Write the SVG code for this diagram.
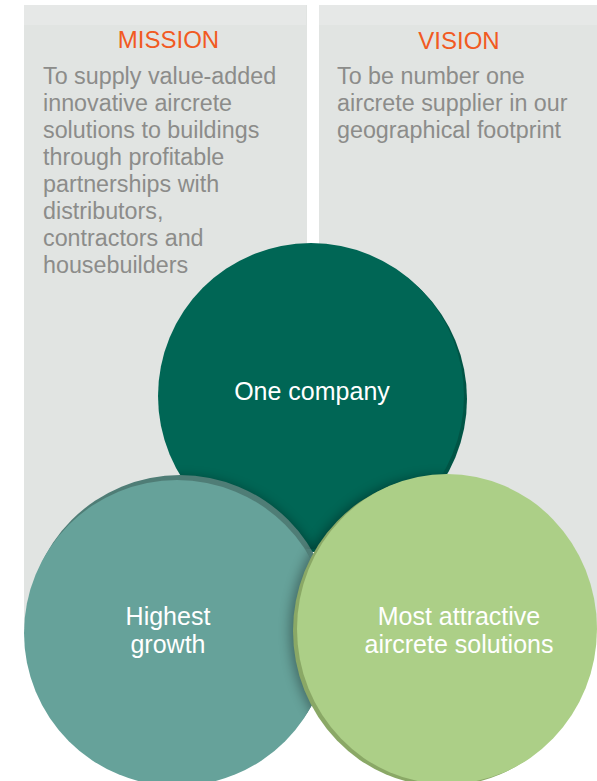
<svg xmlns="http://www.w3.org/2000/svg" width="597" height="781" viewBox="0 0 597 781">
  <style>
    .panel { fill: #e1e4e2; }
    .band { fill: #e6e8e7; }
    .title { font-family: "Liberation Sans", Arial, sans-serif; font-size: 24px; fill: #f15a22; text-anchor: middle; }
    .body { font-family: "Liberation Sans", Arial, sans-serif; font-size: 23.3px; fill: #8c8c8a; }
    .label { font-family: "Liberation Sans", Arial, sans-serif; font-size: 25px; fill: #ffffff; text-anchor: middle; }
    .shadow { fill: #000000; opacity: 0.35; filter: url(#blur); }
  </style>
  <defs>
    <filter id="blur" x="-20%" y="-20%" width="140%" height="140%">
      <feGaussianBlur stdDeviation="6"/>
    </filter>
    <clipPath id="clipDG">
      <circle cx="311" cy="396" r="153"/>
    </clipPath>
    <clipPath id="clipUnder">
      <circle cx="311" cy="396" r="153"/>
      <circle cx="177" cy="633" r="153"/>
    </clipPath>
  </defs>

  <rect width="597" height="781" fill="#ffffff"/>

  <g id="panel-mission">
    <rect class="panel" x="24" y="5" width="283" height="623"/>
    <rect class="band" x="24" y="5" width="282" height="20"/>
    <text class="title" x="168.5" y="48">MISSION</text>
    <text class="body" x="43" y="84">To supply value-added</text>
    <text class="body" x="43" y="111">innovative aircrete</text>
    <text class="body" x="43" y="138">solutions to buildings</text>
    <text class="body" x="43" y="165">through profitable</text>
    <text class="body" x="43" y="192">partnerships with</text>
    <text class="body" x="43" y="219">distributors,</text>
    <text class="body" x="43" y="246">contractors and</text>
    <text class="body" x="43" y="273">housebuilders</text>
  </g>

  <g id="panel-vision">
    <rect class="panel" x="319" y="5" width="278" height="623"/>
    <rect class="band" x="319" y="5" width="278" height="20"/>
    <text class="title" x="459" y="49">VISION</text>
    <text class="body" x="337" y="84">To be number one</text>
    <text class="body" x="337" y="111">aircrete supplier in our</text>
    <text class="body" x="337" y="138">geographical footprint</text>
  </g>

  <g id="connectors"/>

  <g id="node-one-company">
    <circle cx="314" cy="399" r="153" fill="#005445"/>
    <circle cx="311" cy="396" r="153" fill="#006655"/>
    <text class="label" x="312" y="400">One company</text>
  </g>

  <g id="node-highest-growth">
    <g clip-path="url(#clipDG)">
      <circle class="shadow" cx="182" cy="630" r="153"/>
    </g>
    <circle cx="180" cy="628" r="153" fill="#4f7d76"/>
    <circle cx="177" cy="633" r="153" fill="#66a29a"/>
    <text class="label" x="168" y="625">Highest</text>
    <text class="label" x="168" y="653">growth</text>
  </g>

  <g id="node-most-attractive">
    <g clip-path="url(#clipUnder)">
      <ellipse class="shadow" cx="440" cy="631" rx="150" ry="155"/>
    </g>
    <ellipse cx="443" cy="631" rx="150" ry="155" fill="#8aa866"/>
    <ellipse cx="447" cy="629" rx="150" ry="155" fill="#accf87"/>
    <text class="label" x="459" y="625">Most attractive</text>
    <text class="label" x="459" y="653">aircrete solutions</text>
  </g>
</svg>
